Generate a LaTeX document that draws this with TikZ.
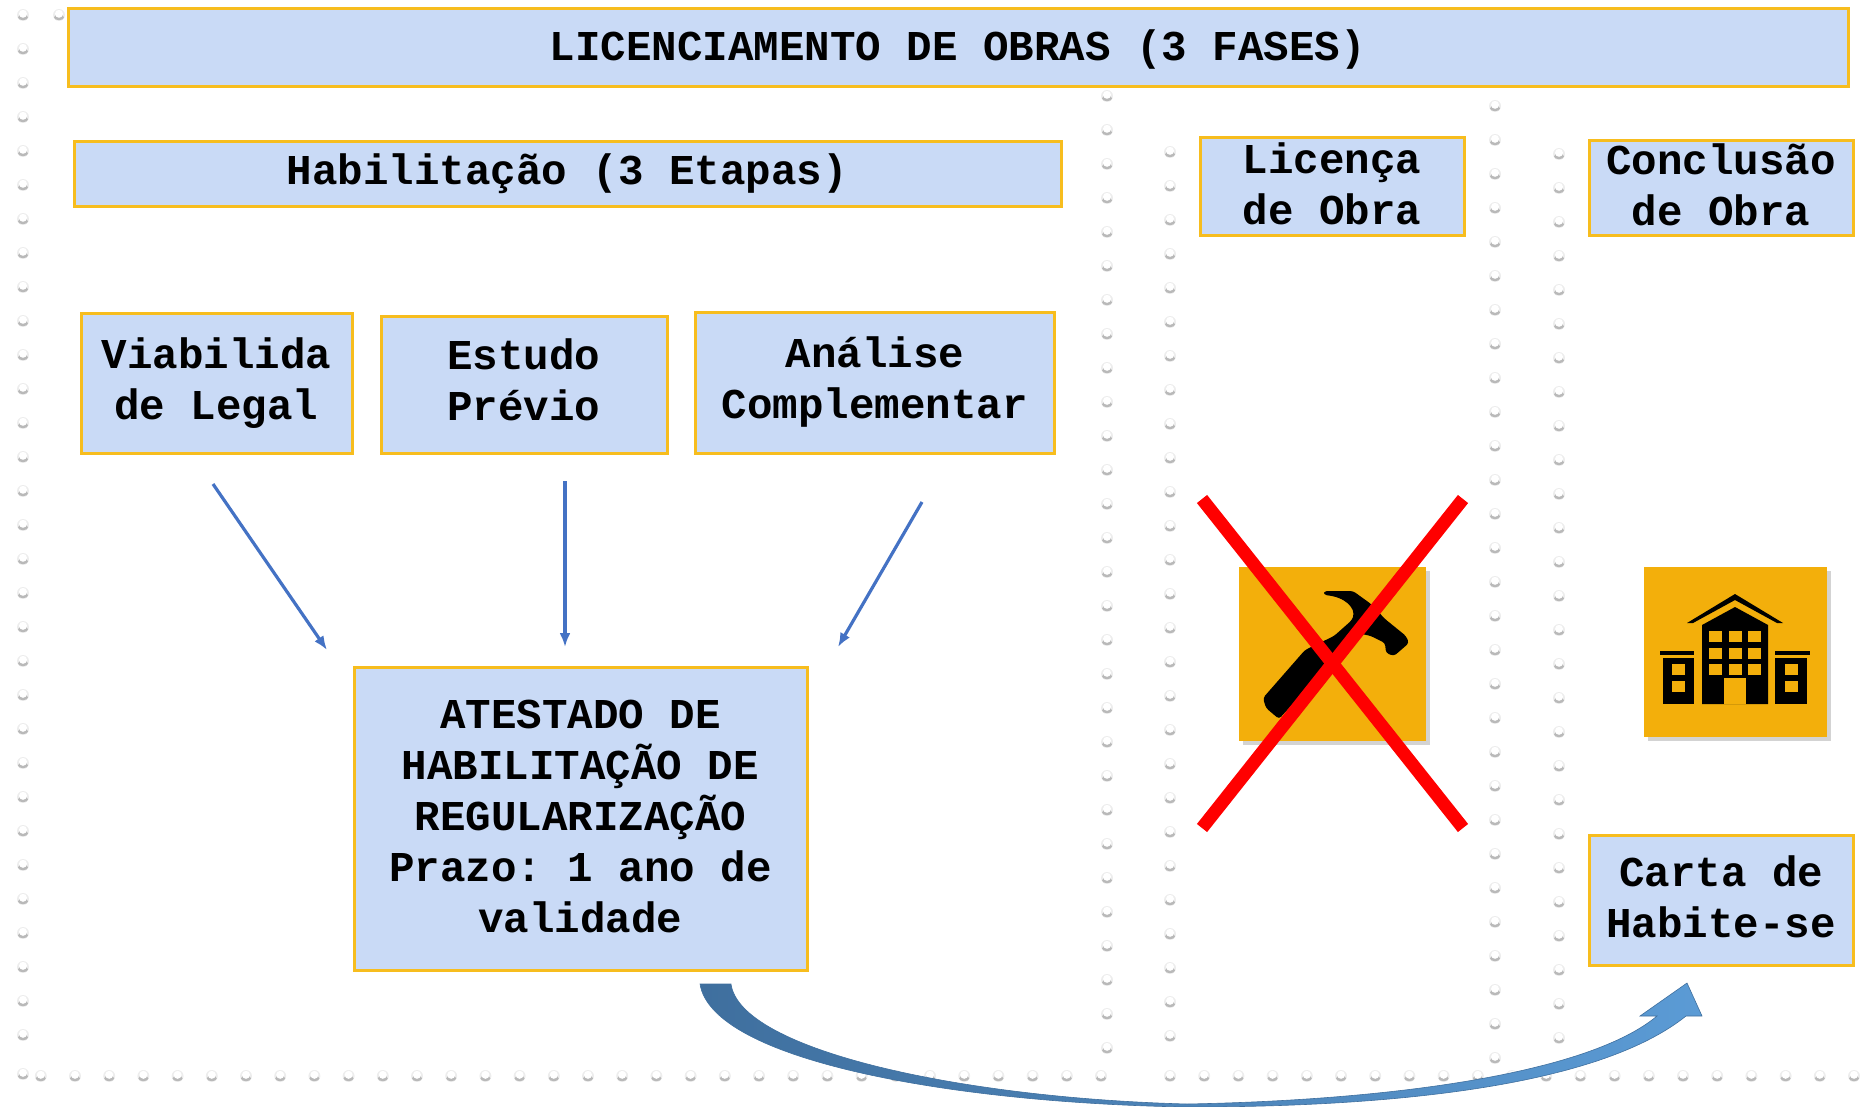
\documentclass[tikz,border=0pt]{standalone}
\usepackage{fontspec}
\setmainfont{Liberation Mono}[BoldFont={Liberation Mono Bold}]
\usetikzlibrary{shadows,arrows.meta}
\frenchspacing
\definecolor{boxfill}{HTML}{C9DAF6}
\definecolor{boxline}{HTML}{F7BD1E}
\definecolor{tilefill}{HTML}{F3AF0B}
\definecolor{linkblue}{HTML}{4472C4}
\definecolor{bendstart}{HTML}{3F6F9E}
\definecolor{bendend}{HTML}{5B9BD5}
\tikzset{
  infobox/.style={draw=boxline,fill=boxfill,line width=3pt,align=center,inner sep=0pt,
    font=\bfseries\fontsize{42.5}{51}\selectfont},
  link/.style={-{Latex[length=14pt,width=11pt]},line width=3.2pt,color=linkblue},
  tile/.style={fill=tilefill,drop shadow={shadow xshift=4pt,shadow yshift=-4pt,opacity=0.35}},
  cross/.style={line width=13pt,color=red},
  spot/.pic={
    \fill[gray!14] (0,0) circle (6);
    \fill[gray!55] (0,2.4) ellipse (5 and 2.8);
    \fill[white] (0,-1.2) circle (4);
  }
}
\begin{document}
\begin{tikzpicture}[x=1pt,y=-1pt]
  \useasboundingbox (0,0) rectangle (1873,1106);

  % dotted frame
  \foreach \k in {0,...,30}
    \pic at (23,{15+34*\k}) {spot};
  \pic at (59,15) {spot};
  \pic at (23,1074) {spot};
  \foreach \k in {0,...,31}
    \pic at ({1101-34.2*\k},1076) {spot};
  \foreach \k in {0,...,20}
    \pic at ({1170+34.2*\k},1076) {spot};
  \foreach \k in {0,...,28}
    \pic at (1107,{1048-34*\k}) {spot};
  \foreach \k in {0,...,26}
    \pic at (1170,{1036-34*\k}) {spot};
  \foreach \k in {0,...,28}
    \pic at (1495,{1058-34*\k}) {spot};
  \foreach \k in {0,...,26}
    \pic at (1559,{1038-34*\k}) {spot};

  % boxes
  \node[infobox,minimum width=1780pt,minimum height=78pt,text depth=3pt] (licenciamento) at (958,47) {LICENCIAMENTO DE OBRAS (3 FASES)};
  \node[infobox,minimum width=987pt,minimum height=65pt] (habilitacao) at (567.5,173.5) {Habilitação (3 Etapas)};
  \node[infobox,minimum width=264pt,minimum height=98pt,text depth=5pt] (licenca) at (1332,186) {Licença\\de Obra};
  \node[infobox,minimum width=264pt,minimum height=95pt,text depth=6pt] (conclusao) at (1721,187.5) {Conclusão\\de Obra};
  \node[infobox,minimum width=271pt,minimum height=140pt] (viabilidade) at (216.5,383) {Viabilida\\de Legal};
  \node[infobox,minimum width=286pt,minimum height=137pt,text depth=10pt] (estudo) at (524,384.5) {Estudo\\Prévio};
  \node[infobox,minimum width=359pt,minimum height=141pt] (analise) at (875,382.5) {Análise\\Complementar};
  \node[infobox,minimum width=453pt,minimum height=303pt,text depth=5pt] (atestado) at (580.5,818.5) {ATESTADO DE\\HABILITAÇÃO DE\\REGULARIZAÇÃO\\Prazo: 1 ano de\\validade};
  \node[infobox,minimum width=264pt,minimum height=130pt,text depth=7pt] (carta) at (1721,900) {Carta de\\Habite-se};

  % links
  \coordinate (viabilidadeend) at (213,484);
  \coordinate (estudoend) at (565,481);
  \coordinate (analiseend) at (922,502);
  \coordinate (atestadoleft) at (327,650);
  \coordinate (atestadomid) at (565,647);
  \coordinate (atestadoright) at (838,647);
  \draw[link] (viabilidadeend) -- (atestadoleft);
  \draw[link] (estudoend) -- (atestadomid);
  \draw[link] (analiseend) -- (atestadoright);

  % hammer
  \node[tile,minimum width=187pt,minimum height=174pt,inner sep=0pt] (hammertile) at (1332,654) {};
  \fill[black,rounded corners=3pt] (1263,698) -- (1305,650) -- (1334,636) -- (1352,620)
    .. controls (1356,608) and (1345,597) .. (1324,595) -- (1324,591) -- (1353,591)
    -- (1371,604) -- (1385,619) -- (1406,636) -- (1409,643) -- (1394,656) -- (1386,653)
    -- (1385,643) -- (1371,636) -- (1362,634) -- (1340,652) -- (1279,719) -- (1266,708) -- cycle;
  \coordinate (crossa) at (1202,499);
  \coordinate (crossb) at (1463,828);
  \coordinate (crossc) at (1463,499);
  \coordinate (crossd) at (1202,828);
  \draw[cross] (crossa) -- (crossb);
  \draw[cross] (crossc) -- (crossd);

  % building
  \node[tile,minimum width=183pt,minimum height=170pt,inner sep=0pt] (buildingtile) at (1735,652) {};
  \fill[black] (1687,623) -- (1735,594) -- (1783,623) -- (1777,623) -- (1735,600) -- (1693,623) -- cycle;
  \fill[black] (1702,625) -- (1735,607) -- (1768,625) -- (1768,704) -- (1702,704) -- cycle;
  \fill[black] (1663,658) rectangle (1694,704);
  \fill[black] (1660,651) rectangle (1694,655);
  \fill[black] (1775,658) rectangle (1807,704);
  \fill[black] (1775,651) rectangle (1810,655);
  \foreach \x in {1709,1728.5,1748}
    \foreach \y in {631,647.5,664}
      \fill[tilefill] (\x,\y) rectangle +(13,11);
  \fill[tilefill] (1724,678) rectangle (1746,704);
  \foreach \x in {1672,1785}
    \foreach \y in {664,681}
      \fill[tilefill] (\x,\y) rectangle +(13,11);

  % bent arrow
  \shade[left color=bendstart,right color=bendend,draw=bendstart,line width=0.6pt]
    (700,984) .. controls (712,1060) and (950,1103) .. (1187,1107)
    .. controls (1400,1107) and (1600,1085) .. (1686,1016)
    -- (1702,1016) -- (1687,983) -- (1640,1016) -- (1657,1016)
    .. controls (1590,1072) and (1400,1100) .. (1187,1104)
    .. controls (960,1098) and (740,1050) .. (731,984) -- cycle;
\end{tikzpicture}
\end{document}
